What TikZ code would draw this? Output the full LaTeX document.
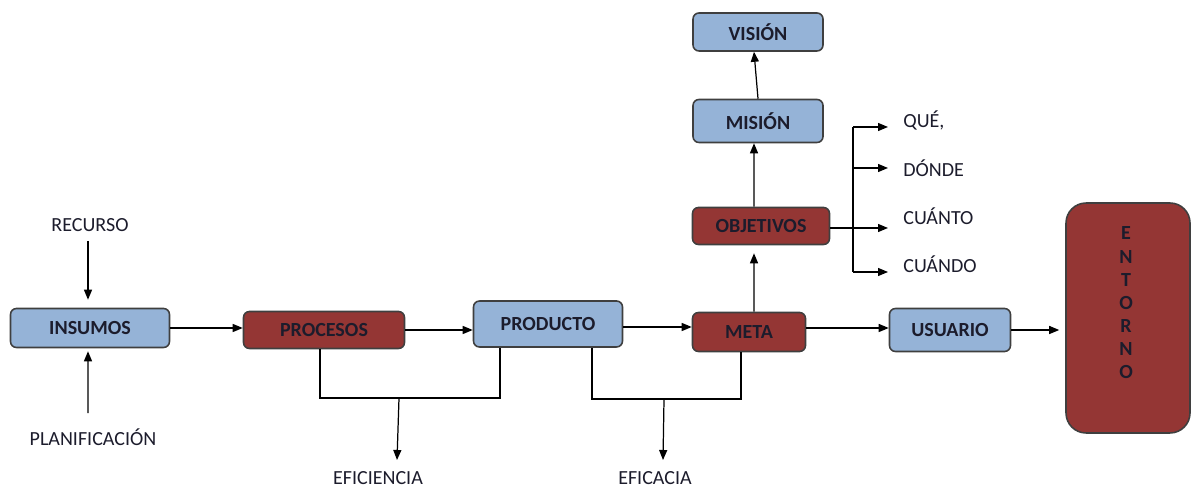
\documentclass[tikz,border=0pt]{standalone}
\usepackage{fontspec}
\setmainfont{Carlito}
\usetikzlibrary{arrows.meta}
\definecolor{boxblue}{HTML}{95B3D7}
\definecolor{boxred}{HTML}{943634}
\definecolor{boxline}{HTML}{3F3F3F}
\definecolor{inktext}{HTML}{1C1C2C}
\begin{document}
\begin{tikzpicture}[x=0.02cm, y=-0.02cm,
  box/.style={draw=boxline, line width=0.9pt, rounded corners=0.12cm,
    font=\fontsize{11.4}{13}\selectfont\bfseries, text=inktext, inner sep=0pt},
  bluebox/.style={box, fill=boxblue},
  redbox/.style={box, fill=boxred},
  lbl/.style={font=\fontsize{11.4}{13}\selectfont, text=inktext, inner sep=0pt},
  arr/.style={-{Triangle[length=0.2cm,width=0.16cm]}, line width=0.7pt},
  ln/.style={line width=0.7pt}]
\useasboundingbox (0,0) rectangle (1195,492);

% main chain of boxes
\node[bluebox, minimum width=3.18cm, minimum height=0.78cm] (ins) at (90,328) {INSUMOS};
\node[redbox, minimum width=3.22cm, minimum height=0.74cm] (proc) at (324,330) {PROCESOS};
\node[bluebox, minimum width=2.98cm, minimum height=0.92cm] (prod) at (548,324) {PRODUCTO};
\node[redbox, minimum width=2.26cm, minimum height=0.78cm] (meta) at (749,332) {META};
\node[bluebox, minimum width=2.42cm, minimum height=0.86cm] (usu) at (950,330) {USUARIO};
\node[redbox, minimum width=2.48cm, minimum height=4.6cm, rounded corners=0.4cm] (ent) at (1128,318) {};
\node[lbl, font=\fontsize{11.4}{13.2}\selectfont\bfseries, align=center] (enttxt) at (1126,303)
  {E\\N\\T\\O\\R\\N\\O};

% vertical column above META
\node[redbox, minimum width=2.74cm, minimum height=0.74cm] (obj) at (761,226) {OBJETIVOS};
\node[bluebox, minimum width=2.6cm, minimum height=0.86cm] (mis) at (758,121) {MISIÓN};
\node[bluebox, minimum width=2.6cm, minimum height=0.76cm] (vis) at (758,32) {VISIÓN};

% free labels
\node[lbl] (rec) at (90,225) {RECURSO};
\node[lbl] (plan) at (93,437) {PLANIFICACIÓN};
\node[lbl] (efi) at (378,478) {EFICIENCIA};
\node[lbl] (efa) at (655,478) {EFICACIA};
\node[lbl, anchor=west] (que) at (903,120) {QUÉ,};
\node[lbl, anchor=west] (donde) at (903,168) {DÓNDE};
\node[lbl, anchor=west] (cuanto) at (903,216) {CUÁNTO};
\node[lbl, anchor=west] (cuando) at (903,264) {CUÁNDO};

% arrow ends and junctions
\coordinate (qa) at (888,127);
\coordinate (da) at (888,168);
\coordinate (ca) at (888,228);
\coordinate (wa) at (888,272);
\coordinate (sp) at (853,228);
\coordinate (j1) at (399,398);
\coordinate (e1) at (397,460);
\coordinate (j2) at (664,399);
\coordinate (e2) at (663,460);

% inputs to INSUMOS
\draw[arr, shorten <=0.18cm, shorten >=0.16cm] ([xshift=-0.04cm]rec.south) -- ([xshift=-0.04cm]ins.north);
\draw[arr, shorten <=0.3cm, shorten >=0.06cm] ([xshift=-0.1cm]plan.north) -- ([xshift=-0.04cm]ins.south);

% main flow
\draw[arr] (ins.east) -- (ins.east -| proc.west);
\draw[arr] (proc.east) -- (proc.east -| prod.west);
\draw[arr] ([yshift=-0.06cm]prod.east) -- ([yshift=-0.06cm]prod.east -| meta.west);
\draw[arr] ([yshift=0.08cm]meta.east) -- ([yshift=0.08cm]meta.east -| usu.west);
\draw[arr, shorten >=0.12cm] (usu.east) -- (usu.east -| ent.west);

% upward chain
\draw[arr, shorten >=0.16cm] ([xshift=0.1cm]meta.north) -- ([xshift=-0.14cm]obj.south);
\draw[arr] ([xshift=-0.14cm]obj.north) -- ([xshift=-0.08cm]mis.south);
\draw[arr] (mis.north) -- ([xshift=-0.08cm]vis.south);

% OBJETIVOS branches
\draw[ln] (obj.east |- sp) -- (sp);
\draw[ln] (sp |- qa) -- (sp |- wa);
\draw[arr] (sp) -- (ca);
\draw[arr] (sp |- qa) -- (qa);
\draw[arr] (sp |- da) -- (da);
\draw[arr] (sp |- wa) -- (wa);

% efficiency bracket
\draw[ln] ([xshift=-0.08cm]proc.south) |- (j1) -| ([xshift=-0.96cm]prod.south);
\draw[arr] (j1) -- (e1);

% efficacy bracket
\draw[ln] ([xshift=0.88cm]prod.south) |- (j2) -| ([xshift=-0.16cm]meta.south);
\draw[arr] (j2) -- (e2);
\end{tikzpicture}
\end{document}
